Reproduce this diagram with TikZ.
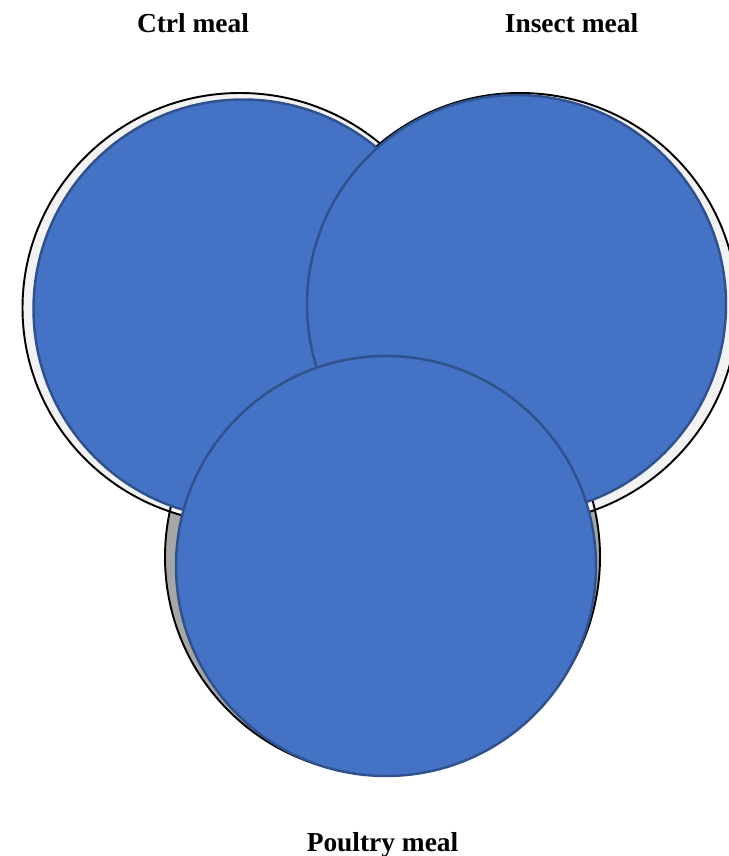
\documentclass[tikz,border=0pt]{standalone}
\usepackage{fontspec}
\setmainfont{Liberation Serif}
\usetikzlibrary{positioning}
\definecolor{vennBlue}{HTML}{4472C4}
\definecolor{vennEdge}{HTML}{2F528F}
\definecolor{rimLight}{HTML}{F2F2F2}
\definecolor{rimDark}{HTML}{A6A6A6}
\begin{document}
\begin{tikzpicture}[x=0.2mm, y=-0.2mm,
    rim/.style={draw=black, line width=1.1pt},
    set/.style={fill=vennBlue, draw=vennEdge, line width=1.4pt},
    setlabel/.style={anchor=base, font=\fontsize{15.6}{18}\selectfont\bfseries}]
  \useasboundingbox (0,0) rectangle (728,856);
  % back rims behind the three sets
  \fill[rimDark] (382.5,557) circle (217.5);
  \fill[rimLight] (240,308) ellipse (217.5 and 215);
  \fill[rimLight] (520,308) ellipse (217.5 and 215);
  \begin{scope}
    \clip (382.5,557) circle (217.5);
    \fill[white] (240,308) ellipse (217.5 and 215);
    \fill[white] (520,308) ellipse (217.5 and 215);
  \end{scope}
  \draw[rim] (382.5,557) circle (217.5);
  \draw[rim] (240,308) ellipse (217.5 and 215);
  \draw[rim] (520,308) ellipse (217.5 and 215);
  % the sets
  \draw[set] (243,309) circle (209.5);
  \draw[set] (516.5,304.5) circle (209.5);
  \draw[set] (386,566) circle (210);
  % labels
  \node[setlabel] (ctrl) at (193,33) {Ctrl meal};
  \node[setlabel] (insect) at (571.5,33) {Insect meal};
  \node[setlabel] (poultry) at (382.5,851) {Poultry meal};
\end{tikzpicture}
\end{document}
